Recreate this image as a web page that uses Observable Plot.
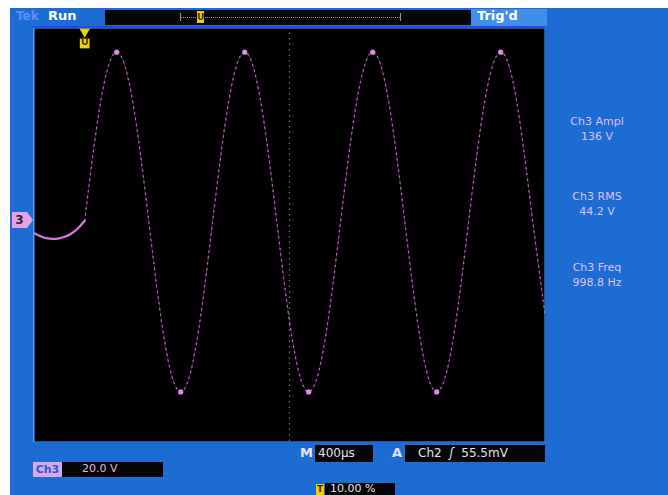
<!DOCTYPE html>
<html>
<head>
<meta charset="utf-8">
<script src="https://cdn.jsdelivr.net/npm/d3@7"></script>
<script src="https://cdn.jsdelivr.net/npm/@observablehq/plot@0.6"></script>
<style>
  html, body { margin: 0; padding: 0; background: #ffffff; width: 668px; height: 495px; overflow: hidden; }
  #scope { position: absolute; left: 10px; top: 8px; width: 658px; height: 487px; background: #1d6cd4; }
  .abs { position: absolute; font-family: "DejaVu Sans", sans-serif; white-space: nowrap; }
  .blk { position: absolute; background: #050505; }
  .readout { position: absolute; left: 537px; width: 120px; text-align: center; color: #dcc0f0; font-family: "DejaVu Sans", sans-serif; font-size: 11px; line-height: 15px; }
  #plotHolder { position: absolute; left: 33px; top: 27px; width: 512px; height: 415px; }
</style>
</head>
<body>
<div id="scope"></div>
<div id="plotHolder"></div>
<script>
// ---- data (time in µs, voltage in V) ----
const preTime  = [0, 50, 100, 150, 200, 250, 300, 350, 400];
const preVolts = [-4.6, -5.9, -6.7, -7.0, -6.8, -6.1, -4.8, -2.8, 0];

const traceTime  = [400, 525, 650, 775, 900, 1025, 1150, 1275, 1400, 1525, 1650, 1775, 1900, 2025, 2150,
                    2275, 2400, 2525, 2650, 2775, 2900, 3025, 3150, 3275, 3400, 3525, 3650, 3775, 3900, 4025];
const traceVolts = [0, 46, 65, 46, 0, -46.7, -66, -46.7, 0, 46, 65, 46, 0, -46.7, -66,
                    -46.7, 0, 46, 65, 46, 0, -46.7, -66, -46.7, 0, 46, 65, 46, 0, -46.7];

const triggerTime = [400];
const centerTime = [2000];
const timeDomain = [0, 4000];      // 10 div x 400 µs
const voltDomain = [-85.5, 74.5];  // 8 div x 20 V, ground offset

const readouts = [
  {label: "Ch3 Ampl", value: "136 V", top: 114},
  {label: "Ch3 RMS", value: "44.2 V", top: 189},
  {label: "Ch3 Freq", value: "998.8 Hz", top: 260}
];

const pre = preTime.map((t, i) => ({t, v: preVolts[i]}));
const trace = traceTime.map((t, i) => ({t, v: traceVolts[i]}));
const extremes = trace.filter(d => Math.abs(d.v) > 60);

const chart = Plot.plot({
  width: 512,
  height: 415,
  margin: 0,
  style: {background: "#000000", overflow: "hidden"},
  x: {domain: timeDomain, axis: null},
  y: {domain: voltDomain, axis: null},
  marks: [
    Plot.ruleX(centerTime, {stroke: "#9a9a9a", strokeDasharray: "1.5,4", strokeWidth: 1.2, strokeOpacity: 0.75}),
    Plot.line(trace, {x: "t", y: "v", curve: "natural", stroke: "#b858c0", strokeWidth: 1, strokeOpacity: 0.3, clip: true}),
    Plot.line(trace, {x: "t", y: "v", curve: "natural", stroke: "#d070d8", strokeWidth: 1.3, strokeOpacity: 0.85, strokeDasharray: "1.3,4.5", clip: true}),
    Plot.dot(extremes, {x: "t", y: "v", r: 2.6, fill: "#f080f0", stroke: "none"}),
    Plot.line(pre, {x: "t", y: "v", curve: "natural", stroke: "#e070e8", strokeWidth: 2.3}),
    Plot.dot(triggerTime, {x: d => d, frameAnchor: "top", symbol: "triangle", rotate: 180, r: 4, dy: 4, fill: "#f0d000"}),
    Plot.dot(triggerTime, {x: d => d, frameAnchor: "top", symbol: "square", r: 5.5, dy: 16, fill: "#f0d000"}),
    Plot.text(triggerTime, {x: d => d, frameAnchor: "top", text: () => "U", dy: 10, fill: "#3a3000", fontSize: 10, fontWeight: "bold"}),
    Plot.frame({stroke: "#4aa6f4", strokeWidth: 2})
  ]
});
document.getElementById("plotHolder").appendChild(chart);

const y0 = chart.scale("y").apply(0) + 27;

const overlay = [];
function add(html) { overlay.push(html); }
// top bar
add(`<div class="abs" style="left:16px;top:9px;font-size:12px;color:#5d8ef8;font-weight:bold;">Tek</div>`);
add(`<div class="abs" style="left:48px;top:8px;font-size:13px;color:#ffffff;font-weight:bold;">Run</div>`);
add(`<div class="blk" style="left:105px;top:10px;width:366px;height:15px;"></div>`);
add(`<div class="abs" style="left:180px;top:17px;width:220px;height:0;border-top:1px dotted #9a8aa8;"></div>`);
add(`<div class="abs" style="left:180px;top:13px;width:0;height:8px;border-left:1px solid #9a8aa8;"></div>`);
add(`<div class="abs" style="left:400px;top:13px;width:0;height:8px;border-left:1px solid #9a8aa8;"></div>`);
add(`<div class="abs" style="left:197px;top:11px;width:7px;height:12px;background:#f0d000;color:#3a3000;font-size:9px;font-weight:bold;text-align:center;line-height:12px;">U</div>`);
add(`<div class="abs" style="left:471px;top:9px;width:76px;height:17px;background:#3f8fe8;"></div>`);
add(`<div class="abs" style="left:477px;top:8px;font-size:13px;color:#ffffff;font-weight:bold;">Trig'd</div>`);
add(`<div class="abs" style="left:33px;top:26px;width:512px;height:2px;background:#2446ff;"></div>`);
// ground marker
add(`<div class="abs" style="left:12px;top:${y0 - 8}px;width:15px;height:16px;background:#e8a0e8;color:#302040;font-size:12px;font-weight:bold;line-height:16px;text-align:center;">3</div>`);
add(`<div class="abs" style="left:27px;top:${y0 - 8}px;width:0;height:0;border-top:8px solid transparent;border-bottom:8px solid transparent;border-left:6px solid #e8a0e8;"></div>`);
// readouts
readouts.forEach(r => add(`<div class="readout" style="top:${r.top}px;">${r.label}<br>${r.value}</div>`));
// bottom
add(`<div class="abs" style="left:300px;top:445px;font-size:13px;color:#e8e0ff;font-weight:bold;">M</div>`);
add(`<div class="blk" style="left:315px;top:445px;width:58px;height:17px;"></div>`);
add(`<div class="abs" style="left:318px;top:446px;font-size:12px;color:#e8e0f0;">400µs</div>`);
add(`<div class="abs" style="left:392px;top:445px;font-size:13px;color:#e8e0ff;font-weight:bold;">A</div>`);
add(`<div class="blk" style="left:405px;top:445px;width:140px;height:17px;"></div>`);
add(`<div class="abs" style="left:418px;top:446px;font-size:12px;color:#e8e0f0;word-spacing:4px;">Ch2 <i>ʃ</i> 55.5mV</div>`);
add(`<div class="abs" style="left:33px;top:462px;width:29px;height:15px;background:#d8a8ec;color:#2a5ad0;font-size:11px;font-weight:bold;line-height:15px;text-align:center;">Ch3</div>`);
add(`<div class="blk" style="left:62px;top:462px;width:101px;height:15px;"></div>`);
add(`<div class="abs" style="left:82px;top:462px;font-size:11px;color:#dcb8e8;">20.0 V</div>`);
add(`<div class="abs" style="left:316px;top:484px;width:8px;height:11px;background:#f0d000;color:#3a3000;font-size:9px;font-weight:bold;line-height:11px;text-align:center;">T</div>`);
add(`<div class="blk" style="left:325px;top:483px;width:70px;height:12px;"></div>`);
add(`<div class="abs" style="left:330px;top:482px;font-size:11px;color:#e8e0f0;">10.00 %</div>`);

const ov = document.createElement("div");
ov.innerHTML = overlay.join("");
document.body.appendChild(ov);
</script>
</body>
</html>
